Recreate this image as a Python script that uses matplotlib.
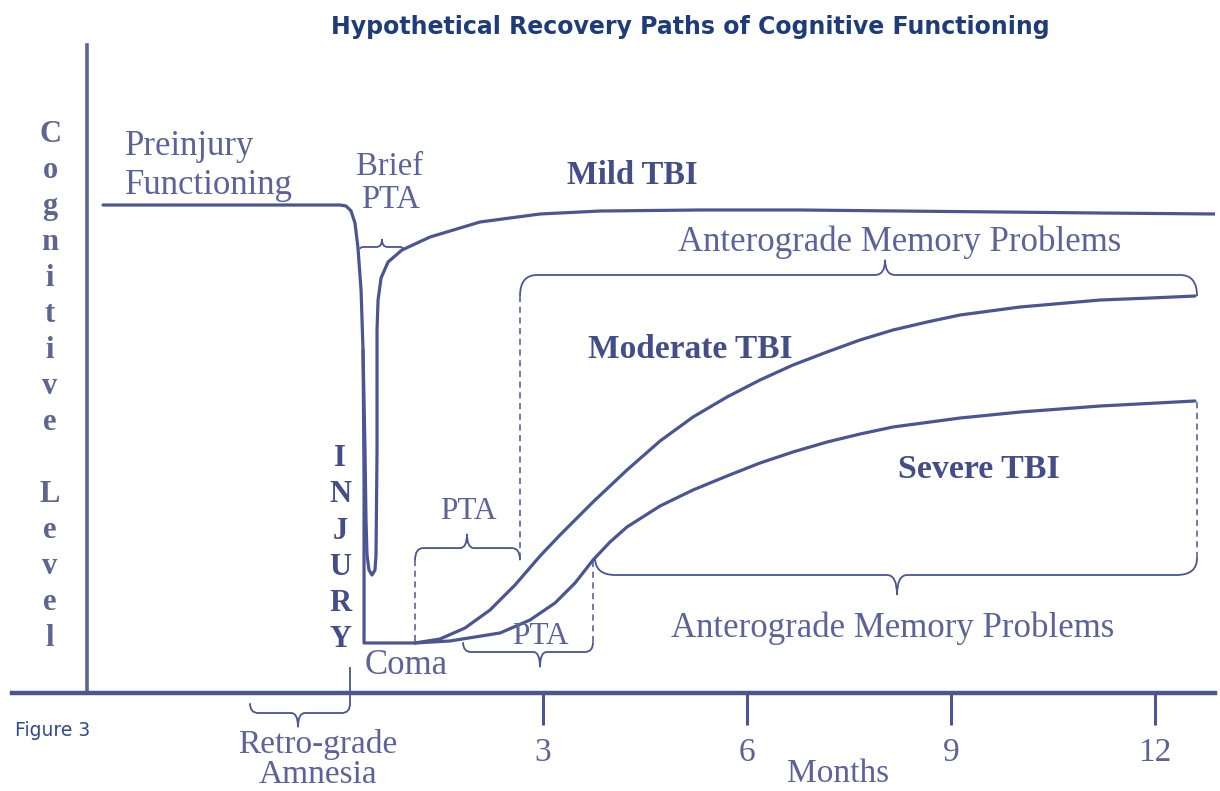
import matplotlib.pyplot as plt
import numpy as np
from matplotlib.path import Path
from matplotlib.patches import PathPatch

# months since injury (x) and cognitive level (y, preinjury = 100)
outer_x = [-3.47, 0.015, 0.103, 0.176, 0.235, 0.279, 0.324, 0.353, 0.368, 0.368, 1.118]
outer_y = [100, 100, 99.8, 98.8, 96.3, 91.2, 82.6, 70.3, 43.6, 10.25, 10.25]

mild_x = [0.353, 0.382, 0.397, 0.412, 0.441, 0.485, 0.529, 0.544, 0.559, 0.559, 0.574,
          0.618, 0.721, 0.926, 1.338, 2.074, 2.956, 3.838, 5.309, 6.779, 8.25, 9.721,
          11.191, 12.882]
mild_y = [70.3, 49.8, 35.45, 28.28, 25.2, 24.18, 25.2, 28.28, 49.8, 74.39, 80.53,
          85.04, 88.32, 90.78, 93.44, 96.52, 98.16, 98.77, 98.98, 98.98, 98.77, 98.57,
          98.36, 98.16]

moderate_x = [1.118, 1.485, 1.853, 2.221, 2.588, 2.956, 3.25, 3.735, 4.235, 4.721,
              5.206, 5.706, 6.191, 6.676, 7.176, 7.662, 8.147, 8.647, 9.132, 10.015,
              11.191, 11.926, 12.588]
moderate_y = [10.25, 11.07, 13.32, 17.01, 22.13, 28.07, 32.38, 39.14, 45.7, 51.64,
              56.56, 60.66, 64.14, 67.21, 69.88, 72.34, 74.39, 76.02, 77.46, 79.1,
              80.53, 80.94, 81.35]

severe_x = [1.118, 1.632, 2.368, 2.809, 3.176, 3.471, 3.735, 3.985, 4.235, 4.721,
            5.206, 5.706, 6.191, 6.676, 7.176, 7.662, 8.147, 9.132, 10.015, 11.191, 12.588]
severe_y = [10.25, 10.66, 12.3, 14.96, 18.44, 22.54, 27.25, 30.94, 34.02, 38.32,
            41.6, 44.47, 47.13, 49.39, 51.43, 53.07, 54.51, 56.35, 57.58, 58.81, 59.84]

tick_months = [3, 6, 9, 12]
tick_labels = ['3', '6', '9', '12']

LINE = '#4a5592'
TXT = '#5b6399'
BOLD = '#434d88'
SERIF = 'Liberation Serif'


def brace(ax, x0, x1, y, xt, tip, hook, r, rt, **kw):
    s = np.sign(tip)
    verts = [(x0, y - s * hook), (x0, y), (x0 + r, y), (xt - rt, y), (xt, y), (xt, y + tip),
             (xt, y), (xt + rt, y), (x1 - r, y), (x1, y), (x1, y - s * hook)]
    codes = [Path.MOVETO, Path.CURVE3, Path.CURVE3, Path.LINETO, Path.CURVE3, Path.CURVE3,
             Path.CURVE3, Path.CURVE3, Path.LINETO, Path.CURVE3, Path.CURVE3]
    ax.add_patch(PathPatch(Path(verts, codes), fill=False, edgecolor=LINE, lw=1.3, **kw))


fig = plt.figure(figsize=(12.2, 7.91), dpi=100)
ax = fig.add_axes([12 / 1220, 98 / 791, 1203 / 1220, 648 / 791])
ax.set_xlim(-4.809, 12.882)
ax.set_ylim(0, 132.79)

for sp in ['top', 'right']:
    ax.spines[sp].set_visible(False)
ax.spines['left'].set_position(('data', -3.71))
ax.spines['left'].set_linewidth(2.6)
ax.spines['left'].set_color('#5a6590')
ax.spines['bottom'].set_linewidth(3.2)
ax.spines['bottom'].set_color(LINE)
ax.set_yticks([])
ax.set_xticks(tick_months)
ax.set_xticklabels(tick_labels, fontsize=24, family=SERIF, color=TXT)
ax.tick_params(axis='x', direction='out', length=23, width=2.2, color=LINE, pad=9)

# curves
for xs, ys in [(outer_x, outer_y), (mild_x, mild_y), (moderate_x, moderate_y),
               (severe_x, severe_y)]:
    ax.plot(xs, ys, color=LINE, lw=2.3, solid_joinstyle='round', solid_capstyle='round')

# braces and dashed guides
brace(ax, 0.309, 0.941, 91.4, 0.632, 1.6, 0.4, 0.05, 0.08)
brace(ax, 2.662, 12.618, 85.66, 8.03, 3.1, 4.3, 0.25, 0.15)
brace(ax, 1.118, 2.662, 29.7, 1.882, 2.9, 2.5, 0.12, 0.1)
brace(ax, 3.765, 12.618, 24.18, 8.206, -4.1, 3.5, 0.3, 0.15)
brace(ax, 1.824, 3.735, 8.4, 2.956, -3.1, 2.0, 0.12, 0.1)
brace(ax, -1.309, 0.162, -4.1, -0.603, -2.9, 2.0, 0.12, 0.1, clip_on=False)

dash = dict(color=LINE, lw=1.1, linestyle=(0, (4, 3)))
ax.plot([2.662, 2.662], [81.4, 27.2], **dash)
ax.plot([1.118, 1.118], [27.2, 10.25], **dash)
ax.plot([12.618, 12.618], [27.7, 59.84], **dash)
ax.plot([3.735, 3.735], [10.4, 27.25], **dash)
ax.plot([0.162, 0.162], [5.1, -2.1], color=LINE, lw=1.3, clip_on=False)

# labels
ax.text(-3.147, 108.0, 'Preinjury\nFunctioning', fontsize=25, family=SERIF, color=TXT,
        ha='left', va='center', linespacing=1.25)
ax.text(0.75, 104.4, 'Brief\nPTA', fontsize=23.5, family=SERIF, color=TXT,
        ha='center', va='center', linespacing=1.12)
ax.text(4.309, 106.1, 'Mild TBI', fontsize=23.5, family=SERIF, weight='bold', color=BOLD,
        ha='center', va='center')
ax.text(8.25, 92.4, 'Anterograde Memory Problems', fontsize=25, family=SERIF, color=TXT,
        ha='center', va='center')
ax.text(5.162, 70.3, 'Moderate TBI', fontsize=24, family=SERIF, weight='bold', color=BOLD,
        ha='center', va='center')
ax.text(9.412, 45.7, 'Severe TBI', fontsize=24.5, family=SERIF, weight='bold', color=BOLD,
        ha='center', va='center')
ax.text(8.147, 13.3, 'Anterograde Memory Problems', fontsize=25, family=SERIF, color=TXT,
        ha='center', va='center')
ax.text(1.897, 37.1, 'PTA', fontsize=22.5, family=SERIF, color=TXT, ha='center', va='center')
ax.text(2.956, 11.5, 'PTA', fontsize=22.5, family=SERIF, color=TXT, ha='center', va='center')
ax.text(0.985, 5.7, 'Coma', fontsize=25, family=SERIF, color=TXT, ha='center', va='center')
ax.text(0.015, 29.5, '\n'.join('INJURY'), fontsize=22, family=SERIF, weight='bold',
        color=BOLD, ha='center', va='center', linespacing=1.32)
ax.text(-4.25, 62.8, '\n'.join('Cognitive') + '\n\n' + '\n'.join('Level'), fontsize=22,
        family=SERIF, weight='bold', color='#5d6690', ha='center', va='center',
        linespacing=1.32, clip_on=False)
ax.text(-0.309, -13.6, 'Retro-grade\nAmnesia', fontsize=24, family=SERIF, color=TXT,
        ha='center', va='center', linespacing=0.98, clip_on=False)
ax.text(7.338, -16.6, 'Months', fontsize=24, family=SERIF, color=TXT,
        ha='center', va='center', clip_on=False)

fig.text(690 / 1220, 1 - 27 / 791, 'Hypothetical Recovery Paths of Cognitive Functioning',
         fontsize=17, weight='bold', color='#1f3c7a', ha='center', va='center',
         family='DejaVu Sans')
fig.text(15 / 1220, 1 - 731 / 791, 'Figure 3', fontsize=13.5, color='#2b4b8f',
         ha='left', va='center', family='DejaVu Sans')

fig.savefig('out.png', dpi=100)
